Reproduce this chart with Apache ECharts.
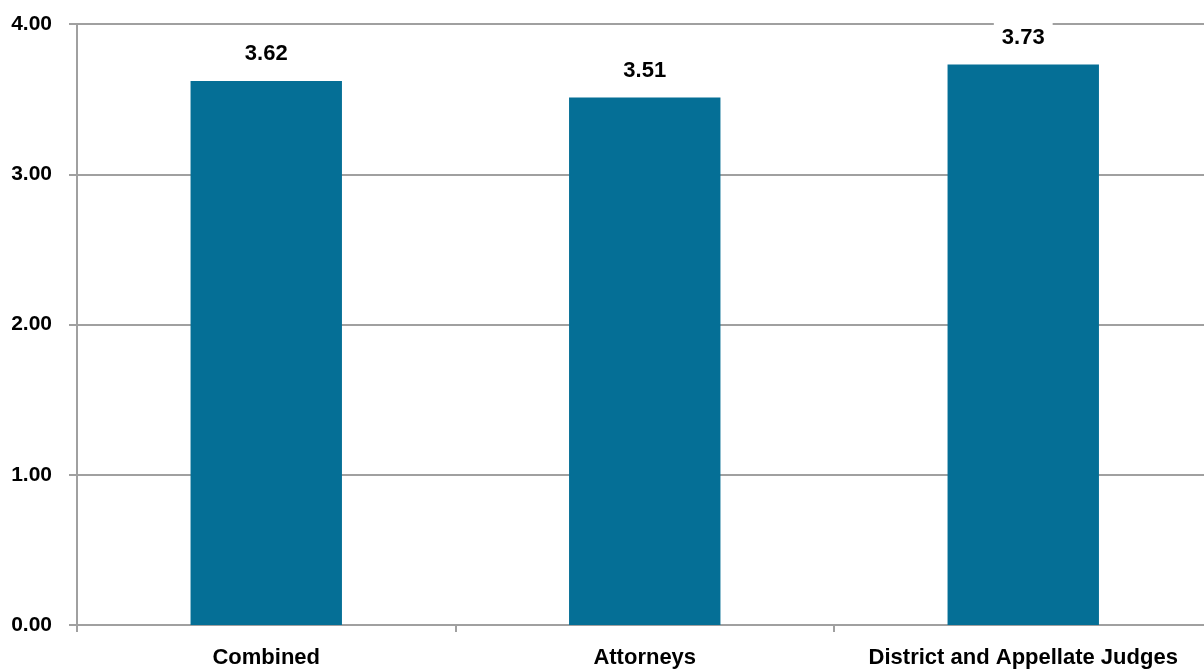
<!DOCTYPE html>
<html>
<head>
<meta charset="utf-8">
<script src="https://cdn.jsdelivr.net/npm/echarts@6/dist/echarts.min.js"></script>
<style>
  html, body { margin: 0; padding: 0; background: #ffffff; }
  #chart { width: 1204px; height: 670px; }
</style>
</head>
<body>
<div id="chart"></div>
<script>
// Average ratings by respondent group
const categories = ['Combined', 'Attorneys', 'District and Appellate Judges'];
const scores = [3.62, 3.51, 3.73];
const yTicks = [0, 1, 2, 3, 4];

const FONT = '"Liberation Sans", Arial, sans-serif';
const GRID_GREY = '#a0a0a0';

const chart = echarts.init(document.getElementById('chart'), null, { renderer: 'canvas' });

chart.setOption({
  animation: false,
  backgroundColor: '#ffffff',
  // plot area runs slightly past the right edge of the canvas
  grid: {
    left: 77, top: 24, width: 1135.5, height: 601,
    containLabel: false,
    outerBoundsMode: 'none'
  },
  xAxis: {
    type: 'category',
    data: categories,
    boundaryGap: true,
    axisLine: { show: true, lineStyle: { color: GRID_GREY, width: 2 } },
    axisTick: { show: true, interval: 0, length: 7, lineStyle: { color: GRID_GREY, width: 2 } },
    axisLabel: {
      interval: 0,
      margin: 22,
      color: '#000000',
      fontFamily: FONT,
      fontWeight: 'bold',
      fontSize: 22
    },
    splitLine: { show: false }
  },
  yAxis: {
    type: 'value',
    min: yTicks[0],
    max: yTicks[yTicks.length - 1],
    interval: 1,
    axisLine: { show: true, lineStyle: { color: GRID_GREY, width: 2 } },
    axisTick: { show: true, length: 8, lineStyle: { color: GRID_GREY, width: 2 } },
    axisLabel: {
      margin: 25,
      color: '#000000',
      fontFamily: FONT,
      fontWeight: 'bold',
      fontSize: 21,
      formatter: v => v.toFixed(2)
    },
    splitLine: { show: true, lineStyle: { color: GRID_GREY, width: 2 } }
  },
  series: [{
    type: 'bar',
    data: scores,
    barWidth: '40%',
    itemStyle: { color: '#056f96' },
    label: {
      show: true,
      position: 'top',
      distance: 16,
      formatter: p => p.value.toFixed(2),
      color: '#000000',
      fontFamily: FONT,
      fontWeight: 'bold',
      fontSize: 22,
      backgroundColor: '#ffffff',
      padding: [6, 8, 0, 8]
    }
  }]
});
</script>
</body>
</html>
